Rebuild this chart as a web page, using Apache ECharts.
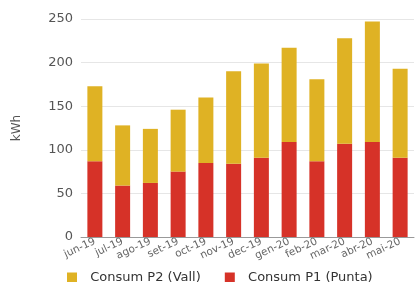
<!DOCTYPE html>
<html>
<head>
<meta charset="utf-8">
<script src="https://cdn.jsdelivr.net/npm/echarts@6/dist/echarts.min.js"></script>
<style>
  html, body { margin: 0; padding: 0; background: #fff; }
  #chart { width: 419px; height: 282px; }
</style>
</head>
<body>
<div id="chart"></div>
<script>
// mesos i consums (kWh)
var months = ['jun-19','jul-19','ago-19','set-19','oct-19','nov-19','dec-19','gen-20','feb-20','mar-20','abr-20','mai-20'];
var punta = [87, 59, 62, 75, 85, 84, 91, 109, 87, 107, 109, 91];
var vall = [86, 69, 62, 71, 75, 106, 108, 108, 94, 121, 138, 102];
var yTicks = [0, 50, 100, 150, 200, 250];

var chart = echarts.init(document.getElementById('chart'));
var font = 'DejaVu Sans';
chart.setOption({
  animation: false,
  grid: { left: 81, right: 5, top: 19, bottom: 45 },
  legend: {
    data: ['Consum P2 (Vall)', 'Consum P1 (Punta)'],
    left: 62, top: 266,
    itemWidth: 10, itemHeight: 10, itemGap: 24,
    icon: 'rect',
    formatter: function (name) { return '  ' + name; },
    textStyle: { fontFamily: font, fontSize: 13, color: '#333' }
  },
  xAxis: {
    type: 'category',
    data: months,
    axisLine: { lineStyle: { color: '#999' } },
    axisTick: { show: false },
    axisLabel: { rotate: 25, interval: 0, fontFamily: font, fontSize: 10.5, color: '#666', margin: 4 }
  },
  yAxis: {
    type: 'value',
    min: yTicks[0], max: yTicks[yTicks.length - 1], interval: 50,
    name: 'kWh', nameLocation: 'middle', nameGap: 58, nameRotate: 90,
    nameTextStyle: { fontFamily: font, fontSize: 12, color: '#555' },
    axisLabel: { fontFamily: font, fontSize: 13, color: '#555', margin: 8 },
    splitLine: { lineStyle: { color: '#e6e6e6' } }
  },
  series: [
    { name: 'Consum P1 (Punta)', type: 'bar', stack: 'c', data: punta, barWidth: 15, itemStyle: { color: '#d63228' } },
    { name: 'Consum P2 (Vall)', type: 'bar', stack: 'c', data: vall, barWidth: 15, itemStyle: { color: '#dfb224' } }
  ]
});
</script>
</body>
</html>
